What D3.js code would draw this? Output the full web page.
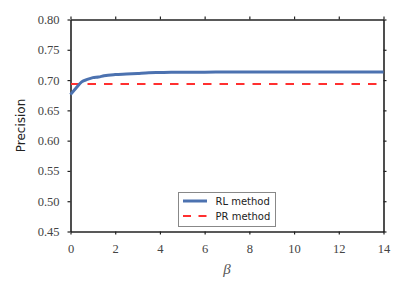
<!DOCTYPE html>
<html>
<head>
<meta charset="utf-8">
<script src="https://cdn.jsdelivr.net/npm/d3@7"></script>
<style>
  body { margin: 0; background: #fff; }
  svg { display: block; }
</style>
</head>
<body>
<div id="chart"></div>
<script>
// data
const beta = [0, 0.25, 0.5, 0.75, 1, 1.25, 1.5, 2, 2.5, 3, 3.5, 4, 4.5, 5, 6, 7, 8, 9, 10, 11, 12, 13, 14];
const rlPrecision = [0.676, 0.687, 0.697, 0.701, 0.704, 0.705, 0.707, 0.709, 0.710, 0.711, 0.712, 0.7125, 0.713, 0.713, 0.713, 0.7133, 0.7133, 0.7133, 0.7133, 0.7133, 0.7133, 0.7133, 0.7133];
const prPrecision = 0.6935;
const xTicks = [0, 2, 4, 6, 8, 10, 12, 14];
const yTicks = [0.45, 0.50, 0.55, 0.60, 0.65, 0.70, 0.75, 0.80];
const seriesNames = ["RL method", "PR method"];

const width = 405, height = 292;
const margin = { left: 70.5, right: 21.5, top: 19.5, bottom: 60.5 };

const svg = d3.select("#chart").append("svg")
    .attr("width", width)
    .attr("height", height);

const x = d3.scaleLinear().domain([0, 14]).range([margin.left, width - margin.right]);
const y = d3.scaleLinear().domain([0.45, 0.80]).range([height - margin.bottom, margin.top]);

const tickFont = "'Liberation Serif', 'DejaVu Serif', serif";

// axes, mirrored on all four sides
function styleAxis(g) {
    g.attr("font-family", null).attr("font-size", null);
    g.select(".domain").attr("stroke", "#222").attr("stroke-width", 1.6);
    g.selectAll(".tick line").attr("stroke", "#222").attr("stroke-width", 1.2);
    g.selectAll(".tick text")
        .attr("fill", "#444")
        .style("font-family", tickFont)
        .style("font-size", "12.5px");
}

svg.append("g")
    .attr("transform", `translate(0,${y(0.45)})`)
    .call(d3.axisBottom(x).tickValues(xTicks).tickSize(3).tickPadding(10).tickSizeOuter(0).tickFormat(d3.format("d")))
    .call(styleAxis);

svg.append("g")
    .attr("transform", `translate(0,${y(0.80)})`)
    .call(d3.axisTop(x).tickValues(xTicks).tickSize(3).tickSizeOuter(0).tickFormat(""))
    .call(styleAxis);

svg.append("g")
    .attr("transform", `translate(${x(0)},0)`)
    .call(d3.axisLeft(y).tickValues(yTicks).tickSize(3).tickPadding(8).tickSizeOuter(0).tickFormat(d3.format(".2f")))
    .call(styleAxis);

svg.append("g")
    .attr("transform", `translate(${x(14)},0)`)
    .call(d3.axisRight(y).tickValues(yTicks).tickSize(3).tickSizeOuter(0).tickFormat(""))
    .call(styleAxis);

// PR baseline
svg.append("line")
    .attr("x1", x(0)).attr("x2", x(14))
    .attr("y1", y(prPrecision)).attr("y2", y(prPrecision))
    .attr("stroke", "#ff3030")
    .attr("stroke-width", 2)
    .attr("stroke-dasharray", "8.5,8")
    .attr("stroke-dashoffset", -0.5);

// RL curve
const line = d3.line()
    .x((d, i) => x(beta[i]))
    .y(d => y(d))
    .curve(d3.curveMonotoneX);

svg.append("path")
    .datum(rlPrecision)
    .attr("fill", "none")
    .attr("stroke", "#4c72b0")
    .attr("stroke-width", 3)
    .attr("stroke-linejoin", "round")
    .attr("d", line);

// axis labels
svg.append("text")
    .attr("x", x(7))
    .attr("y", 274)
    .attr("text-anchor", "middle")
    .attr("fill", "#555")
    .style("font-family", tickFont)
    .style("font-style", "italic")
    .style("font-size", "15px")
    .text("β");

svg.append("text")
    .attr("transform", `translate(25,${y(0.625)}) rotate(-90)`)
    .attr("text-anchor", "middle")
    .attr("fill", "#222")
    .style("font-family", "'DejaVu Sans', sans-serif")
    .style("font-size", "12px")
    .text("Precision");

// legend
const legend = svg.append("g").attr("transform", "translate(178.5,192.5)");
legend.append("rect")
    .attr("width", 97).attr("height", 34)
    .attr("fill", "#fff")
    .attr("stroke", "#888")
    .attr("stroke-width", 1);

const legendStyles = [
    { color: "#4c72b0", width: 3, dash: null },
    { color: "#ff3030", width: 2, dash: "8,7.5" }
];

seriesNames.forEach((name, i) => {
    const yy = 8.5 + i * 15;
    legend.append("line")
        .attr("x1", 4.5).attr("x2", 28.5)
        .attr("y1", yy).attr("y2", yy)
        .attr("stroke", legendStyles[i].color)
        .attr("stroke-width", legendStyles[i].width)
        .attr("stroke-dasharray", legendStyles[i].dash);
    legend.append("text")
        .attr("x", 37).attr("y", yy + 3.5)
        .attr("fill", "#222")
        .style("font-family", "'DejaVu Sans', sans-serif")
        .style("font-size", "10px")
        .text(name);
});
</script>
</body>
</html>
